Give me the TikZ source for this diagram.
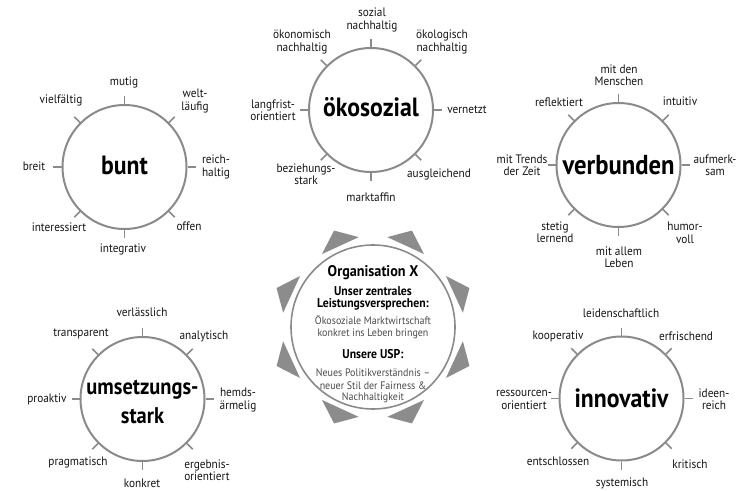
\documentclass[tikz,border=0pt]{standalone}
\usepackage{fontspec}
\setmainfont{PT Sans}[FakeStretch=0.92]
\newfontfamily\titlefont{PT Sans}[FakeStretch=0.9]
\definecolor{ringgray}{HTML}{8A8A8A}
\definecolor{labcol}{HTML}{141414}
\definecolor{bodygray}{HTML}{4A4A4A}
\definecolor{trigray}{HTML}{8C8C8C}
\begin{document}
\begin{tikzpicture}[x=1bp,y=-1bp,
  satcircle/.style={circle, draw=ringgray, line width=2bp, minimum size=124bp, inner sep=0pt},
  tickline/.style={draw=ringgray, line width=1.6bp},
  lab/.style={font=\fontsize{12.3}{12.5}\selectfont, text=labcol, align=center, inner sep=0pt},
  ttl/.style={font=\titlefont\bfseries\fontsize{26.5}{30}\selectfont, text=black, align=center, inner sep=0pt},
  boldline/.style={font=\bfseries\fontsize{12.8}{13}\selectfont, text=black, inner sep=0pt},
  bodyline/.style={font=\fontsize{10.9}{12}\selectfont, text=bodygray, inner sep=0pt},
]
\useasboundingbox (0,0) rectangle (740,491);

% ---------- satellite circles ----------
\node[satcircle] (bunt) at (124.5,167) {};
\node[satcircle] (oeko) at (371,110) {};
\node[satcircle] (verb) at (618.5,165) {};
\node[satcircle] (umse) at (142.5,399) {};
\node[satcircle] (inno) at (621.5,398.5) {};
\foreach \c in {bunt,oeko,verb,umse,inno}{
  \foreach \a in {0,45,...,315}{
    \draw[tickline] (\c.\a) -- ++(\a:8bp);
  }
}

% ---------- titles ----------
\node[ttl] (tbunt) at (124.5,165) {bunt};
\node[ttl] (toeko) at (371,107) {ökosozial};
\node[ttl, font=\titlefont\bfseries\fontsize{27.5}{30}\selectfont] (tverb) at (618.5,165) {verbunden};
\node[ttl, font=\titlefont\bfseries\fontsize{22.8}{30}\selectfont] (tumse) at (142.5,402) {umsetzungs-\\stark};
\node[ttl] (tinno) at (621.5,398) {innovativ};

% ---------- bunt labels ----------
\node[lab] (b1) at (124,82) {mutig};
\node[lab] (b2) at (61,100) {vielfältig};
\node[lab] (b3) at (195,101) {welt-\\läufig};
\node[lab] (b4) at (34,166) {breit};
\node[lab] (b5) at (216,167) {reich-\\haltig};
\node[lab] (b6) at (59,227) {interessiert};
\node[lab] (b7) at (189,226) {offen};
\node[lab] (b8) at (123,249) {integrativ};

% ---------- oekosozial labels ----------
\node[lab] (o1) at (372,20) {sozial\\nachhaltig};
\node[lab] (o2) at (302,42) {ökonomisch\\nachhaltig};
\node[lab] (o3) at (442,42) {ökologisch\\nachhaltig};
\node[lab] (o4) at (273,110) {langfrist-\\orientiert};
\node[lab] (o5) at (467,110) {vernetzt};
\node[lab] (o6) at (306,174) {beziehungs-\\stark};
\node[lab] (o7) at (439,174) {ausgleichend};
\node[lab] (o8) at (371,197) {marktaffin};

% ---------- verbunden labels ----------
\node[lab] (v1) at (619,75) {mit den\\Menschen};
\node[lab] (v2) at (559,102) {reflektiert};
\node[lab] (v3) at (680,101) {intuitiv};
\node[lab] (v4) at (522,165) {mit Trends\\der Zeit};
\node[lab] (v5) at (715,165) {aufmerk-\\sam};
\node[lab] (v6) at (555,232) {stetig\\lernend};
\node[lab] (v7) at (685,233) {humor-\\voll};
\node[lab] (v8) at (619,257) {mit allem\\Leben};

% ---------- umsetzungsstark labels ----------
\node[lab] (u1) at (142,312) {verlässlich};
\node[lab] (u2) at (81,334) {transparent};
\node[lab] (u3) at (204,336) {analytisch};
\node[lab] (u4) at (47,399) {proaktiv};
\node[lab] (u5) at (238,400) {hemds-\\ärmelig};
\node[lab] (u6) at (78,462) {pragmatisch};
\node[lab] (u7) at (207,470) {ergebnis-\\orientiert};
\node[lab] (u8) at (142,483) {konkret};

% ---------- innovativ labels ----------
\node[lab] (i1) at (621,313) {leidenschaftlich};
\node[lab] (i2) at (558,336) {kooperativ};
\node[lab] (i3) at (686,336) {erfrischend};
\node[lab] (i4) at (524,400) {ressourcen-\\orientiert};
\node[lab] (i5) at (714,399) {ideen-\\reich};
\node[lab] (i6) at (558,461) {entschlossen};
\node[lab] (i7) at (690,464) {kritisch};
\node[lab] (i8) at (622,483) {systemisch};

% ---------- central ring ----------
\node[circle, draw=ringgray, line width=1.6bp, minimum size=164bp, inner sep=0pt] (core) at (373,327) {};
\foreach \c in {0,90,180,270}{
  \foreach \s in {1,-1}{
    \fill[trigray, shift={(core.center)}] (\c+9*\s:91bp) -- (\c+22*\s:104bp) -- (\c+35*\s:89bp) -- cycle;
  }
}
\node[font=\bfseries\fontsize{15.5}{16}\selectfont, text=black, inner sep=0pt] (c1) at (373,273) {Organisation X};
\node[boldline] (c2) at (373,291) {Unser zentrales};
\node[boldline] (c3) at (373,304) {Leistungsversprechen:};
\node[bodyline] (c4) at (373,320) {Ökosoziale Marktwirtschaft};
\node[bodyline] (c5) at (373,334) {konkret ins Leben bringen};
\node[boldline] (c6) at (373,354) {Unsere USP:};
\node[bodyline] (c7) at (373,373) {Neues Politikverständnis –};
\node[bodyline] (c8) at (373,386) {neuer Stil der Fairness \&};
\node[bodyline] (c9) at (373,398) {Nachhaltigkeit};
\end{tikzpicture}
\end{document}
